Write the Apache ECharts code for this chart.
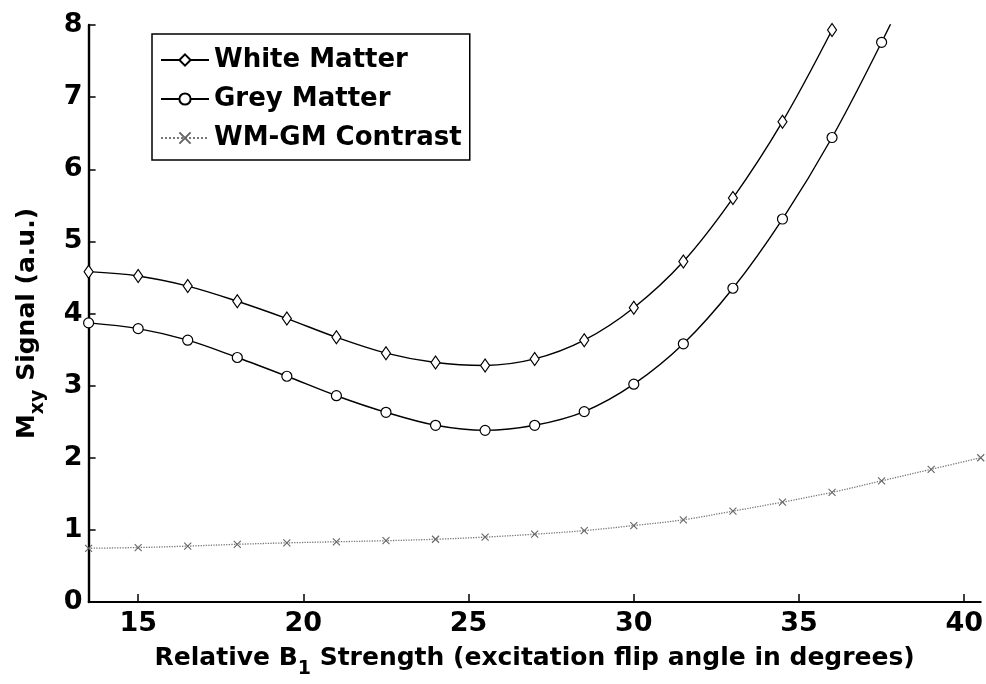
<!DOCTYPE html>
<html>
<head>
<meta charset="utf-8">
<title>Mxy Signal vs Relative B1 Strength</title>
<script src="https://cdn.jsdelivr.net/npm/echarts@6/dist/echarts.min.js"></script>
<style>
  html, body { margin: 0; padding: 0; background: #fff; }
  #chart { width: 986px; height: 684px; }
</style>
</head>
<body>
<div id="chart"></div>
<script>
// Flip angle samples (degrees), one every 1.5 degrees
const flipAngles = [13.5, 15, 16.5, 18, 19.5, 21, 22.5, 24, 25.5, 27, 28.5, 30, 31.5, 33, 34.5, 36, 37.5, 39, 40.5];

// Transverse signal of each tissue (a.u.)
const whiteMatter = [4.58, 4.52, 4.38, 4.17, 3.93, 3.67, 3.45, 3.32, 3.28, 3.37, 3.63, 4.08, 4.72, 5.60, 6.66, 7.93];
const greyMatter  = [3.87, 3.79, 3.63, 3.39, 3.13, 2.86, 2.63, 2.45, 2.38, 2.45, 2.64, 3.02, 3.58, 4.35, 5.31, 6.44, 7.76, 9.2];
const contrast    = [0.745, 0.755, 0.775, 0.80, 0.82, 0.835, 0.85, 0.87, 0.90, 0.94, 0.99, 1.06, 1.14, 1.26, 1.385, 1.52, 1.68, 1.84, 2.00];

const seriesNames = ['White Matter', 'Grey Matter', 'WM-GM Contrast'];
const xTickValues = [15, 20, 25, 30, 35, 40];

const FONT = 'DejaVu Sans';

function pairs(values) {
  return values.map((v, i) => [flipAngles[i], v]);
}

const chart = echarts.init(document.getElementById('chart'), null, { renderer: 'canvas' });

const mainRich = {
  t: { fontFamily: FONT, fontWeight: 'bold', fontSize: 25, color: '#000', lineHeight: 28, verticalAlign: 'top' },
  s: { fontFamily: FONT, fontWeight: 'bold', fontSize: 19, color: '#000', lineHeight: 20, verticalAlign: 'top', padding: [14, 0, 0, 0] }
};

const option = {
  backgroundColor: '#fff',
  animation: false,
  grid: { left: 88.6, right: 2.7, top: 25, bottom: 76.5, containLabel: false },
  legend: {
    orient: 'vertical',
    left: 152,
    top: 34,
    data: seriesNames,
    itemWidth: 48,
    itemHeight: 14,
    itemGap: 9,
    padding: [11, 8, 7, 8],
    borderColor: '#000',
    borderWidth: 1.5,
    backgroundColor: '#fff',
    textStyle: { fontFamily: FONT, fontWeight: 'bold', fontSize: 26, color: '#000', lineHeight: 30 }
  },
  xAxis: {
    type: 'value',
    min: 13.5,
    max: 40.5,
    name: '{t|Relative B}{s|1}{t| Strength (excitation flip angle in degrees)}',
    nameLocation: 'middle',
    nameGap: 44,
    nameTextStyle: { rich: mainRich },
    axisLine: { show: true, onZero: false, lineStyle: { color: '#000', width: 2 } },
    axisTick: { show: true, inside: true, length: 8, lineStyle: { color: '#000', width: 1.5 }, customValues: xTickValues },
    axisLabel: { fontFamily: FONT, fontWeight: 'bold', fontSize: 27, color: '#000', margin: 8, customValues: xTickValues },
    splitLine: { show: false }
  },
  yAxis: {
    type: 'value',
    min: 0,
    max: 8,
    interval: 1,
    name: '{t|M}{s|xy}{t| Signal (a.u.)}',
    nameLocation: 'middle',
    nameGap: 46,
    nameTextStyle: { rich: mainRich, padding: [0, 20, 0, 0] },
    axisLine: { show: true, lineStyle: { color: '#000', width: 2.4 } },
    axisTick: { show: true, inside: true, length: 7, lineStyle: { color: '#000', width: 1.5 } },
    axisLabel: { fontFamily: FONT, fontWeight: 'bold', fontSize: 27, color: '#000', margin: 6 },
    splitLine: { show: false }
  },
  series: [
    {
      name: seriesNames[0],
      type: 'line',
      data: pairs(whiteMatter),
      smooth: 0.35,
      symbol: 'diamond',
      symbolSize: [9, 13],
      lineStyle: { color: '#000', width: 1.4 },
      itemStyle: { color: '#fff', borderColor: '#000', borderWidth: 1.2 },
      z: 3
    },
    {
      name: seriesNames[1],
      type: 'line',
      data: pairs(greyMatter),
      smooth: 0.35,
      symbol: 'circle',
      symbolSize: 10,
      lineStyle: { color: '#000', width: 1.4 },
      itemStyle: { color: '#fff', borderColor: '#000', borderWidth: 1.2 },
      z: 3
    },
    {
      name: seriesNames[2],
      type: 'line',
      data: pairs(contrast),
      smooth: 0.35,
      symbol: 'path://M0,0L10,10M10,0L0,10',
      symbolSize: 7,
      lineStyle: { color: '#777', width: 1.3, type: 'dotted' },
      itemStyle: { color: 'rgba(0,0,0,0)', borderColor: '#666', borderWidth: 1.1 },
      z: 2
    }
  ]
};

chart.setOption(option);
</script>
</body>
</html>
